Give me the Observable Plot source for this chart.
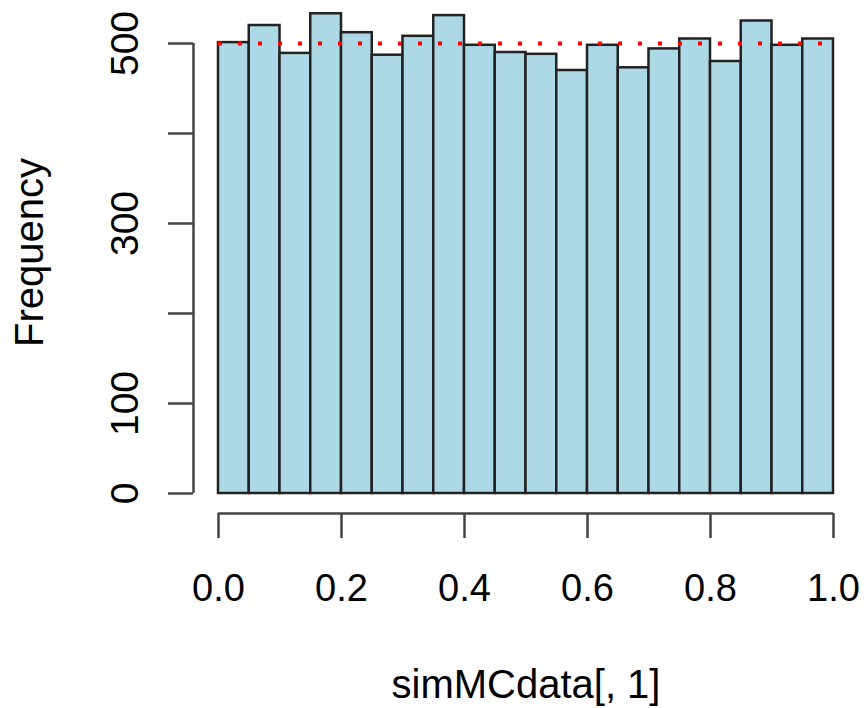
<!DOCTYPE html>
<html>
<head>
<meta charset="utf-8">
<script src="https://cdn.jsdelivr.net/npm/d3@7"></script>
<script src="https://cdn.jsdelivr.net/npm/@observablehq/plot@0.6"></script>
<style>
  html, body { margin: 0; padding: 0; background: #fff; }
  #chart svg { display: block; }
</style>
</head>
<body>
<div id="chart"></div>
<script>
// Histogram of simMCdata[, 1] (20 bins of width 0.05)
const breaks = [0, 0.05, 0.10, 0.15, 0.20, 0.25, 0.30, 0.35, 0.40, 0.45, 0.50,
                0.55, 0.60, 0.65, 0.70, 0.75, 0.80, 0.85, 0.90, 0.95, 1.00];
const counts = [501, 520, 489, 533, 512, 487, 508, 531, 498, 490,
                488, 470, 498, 473, 494, 505, 480, 525, 498, 505];
const expected = 500;
const xTicks = [0, 0.2, 0.4, 0.6, 0.8, 1.0];
const yTicks = [0, 100, 200, 300, 400, 500];
const yTickLabels = [0, 100, 300, 500];
const xTitle = "simMCdata[, 1]";
const yTitle = "Frequency";

const bins = counts.map((c, i) => ({x1: breaks[i], x2: breaks[i + 1], count: c}));

const axisColor = "#444";
const font = "'Liberation Sans', Arial, Helvetica, sans-serif";

const chart = Plot.plot({
  width: 865,
  height: 708,
  marginLeft: 218,
  marginRight: 32,
  marginTop: 43,
  marginBottom: 215,
  style: {fontFamily: font, background: "#fff", color: "#000", overflow: "visible"},
  x: {domain: [0, 1]},
  y: {domain: [0, 500]},
  marks: [
    Plot.rectY(bins, {x1: "x1", x2: "x2", y: "count", inset: 0,
      fill: "#ADD8E6", stroke: "#222", strokeWidth: 2.5}),
    Plot.ruleY([expected], {x1: 0, x2: 1, stroke: "red", strokeWidth: 4,
      strokeDasharray: "4,16"}),
    // x axis
    Plot.ruleY([0], {x1: xTicks[0], x2: xTicks[xTicks.length - 1], dy: 20,
      stroke: axisColor, strokeWidth: 2.5}),
    Plot.axisX(xTicks, {tickSize: 25, dy: 20, tickFormat: () => "", label: null,
      stroke: axisColor, strokeWidth: 2.5}),
    Plot.text(xTicks, {x: d => d, frameAnchor: "bottom", dy: 107, lineAnchor: "bottom",
      textAnchor: "middle", text: d => d.toFixed(1), fontSize: 38, fill: "#000"}),
    Plot.text([xTitle], {frameAnchor: "bottom", dy: 204, lineAnchor: "bottom",
      textAnchor: "middle", text: d => d, fontSize: 40, fill: "#000"}),
    // y axis
    Plot.ruleX([0], {y1: yTicks[0], y2: yTicks[yTicks.length - 1], dx: -25,
      stroke: axisColor, strokeWidth: 2.5}),
    Plot.axisY(yTicks, {tickSize: 25, dx: -25, tickFormat: () => "", label: null,
      stroke: axisColor, strokeWidth: 2.5}),
    Plot.text(yTickLabels, {y: d => d, frameAnchor: "left", dx: -81, rotate: -90,
      textAnchor: "middle", lineAnchor: "bottom", text: d => String(d),
      fontSize: 39, fill: "#000"}),
    Plot.text([yTitle], {frameAnchor: "left", dx: -176, dy: -16, rotate: -90,
      textAnchor: "middle", lineAnchor: "bottom", text: d => d,
      fontSize: 40, fill: "#000"})
  ]
});

document.getElementById("chart").appendChild(chart);
</script>
</body>
</html>
